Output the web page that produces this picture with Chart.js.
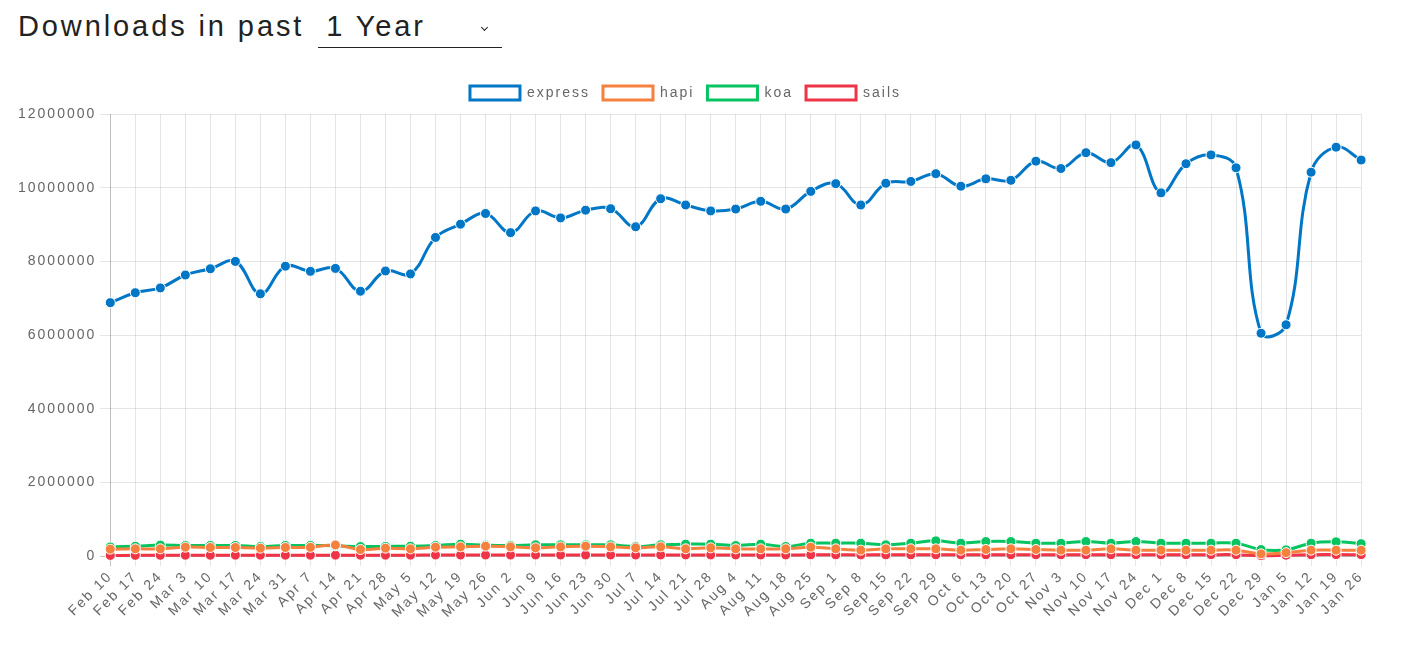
<!DOCTYPE html>
<html>
<head>
    <meta charset="UTF-8">
    <title>Downloads in past 1 Year</title>
    <style>
        body {
            margin: 0;
            background-color: white;
            font-family: "Liberation Sans", Arial, sans-serif;
        }

        #header {
            position: absolute;
            left: 18px;
            top: 10px;
            font-size: 29px;
            letter-spacing: 2.9px;
            color: #222;
            white-space: nowrap;
        }

        #period {
            display: inline-block;
            position: relative;
            width: 176px;
            margin-left: 3px;
            padding-left: 8px;
            border-bottom: 1.5px solid #222;
            padding-bottom: 4px;
        }

        /* little chevron like the native select */
        #period:after {
            content: '';
            position: absolute;
            right: 15px;
            top: 15px;
            width: 4px;
            height: 4px;
            border-right: 1.5px solid #222;
            border-bottom: 1.5px solid #222;
            transform: rotate(45deg);
        }

        #chartBox {
            position: absolute;
            left: 0;
            top: 73px;
            width: 1375px;
            height: 550px;
        }
    </style>
    <script src="https://cdn.jsdelivr.net/npm/chart.js"></script>
</head>
<body>
    <div id="header">Downloads in past <span id="period">1 Year</span></div>
    <div id="chartBox">
        <canvas id="downloadsChart"></canvas>
    </div>

    <script>
        var weeks = ['Feb 10', 'Feb 17', 'Feb 24', 'Mar 3', 'Mar 10', 'Mar 17', 'Mar 24', 'Mar 31',
            'Apr 7', 'Apr 14', 'Apr 21', 'Apr 28', 'May 5', 'May 12', 'May 19', 'May 26',
            'Jun 2', 'Jun 9', 'Jun 16', 'Jun 23', 'Jun 30', 'Jul 7', 'Jul 14', 'Jul 21', 'Jul 28',
            'Aug 4', 'Aug 11', 'Aug 18', 'Aug 25', 'Sep 1', 'Sep 8', 'Sep 15', 'Sep 22', 'Sep 29',
            'Oct 6', 'Oct 13', 'Oct 20', 'Oct 27', 'Nov 3', 'Nov 10', 'Nov 17', 'Nov 24',
            'Dec 1', 'Dec 8', 'Dec 15', 'Dec 22', 'Dec 29', 'Jan 5', 'Jan 12', 'Jan 19', 'Jan 26'];

        var expressDownloads = [6880000, 7150000, 7280000, 7630000, 7800000, 8000000, 7120000, 7870000,
            7730000, 7810000, 7190000, 7740000, 7660000, 8650000, 9010000, 9300000,
            8780000, 9370000, 9180000, 9390000, 9430000, 8940000, 9700000, 9530000, 9370000,
            9420000, 9630000, 9420000, 9900000, 10110000, 9530000, 10120000, 10170000, 10380000,
            10040000, 10240000, 10200000, 10720000, 10520000, 10950000, 10680000, 11160000,
            9860000, 10650000, 10890000, 10540000, 6050000, 6280000, 10420000, 11100000, 10750000];

        var hapiDownloads = [190000, 199000, 199000, 244000, 235000, 235000, 217000, 235000,
            240000, 305000, 181000, 217000, 199000, 244000, 253000, 271000,
            253000, 226000, 253000, 271000, 253000, 226000, 253000, 199000, 226000,
            199000, 199000, 199000, 244000, 199000, 163000, 199000, 199000, 199000,
            163000, 181000, 199000, 181000, 163000, 163000, 199000, 163000,
            163000, 163000, 163000, 163000, 63000, 95000, 163000, 163000, 163000];

        var koaDownloads = [250000, 270000, 300000, 290000, 290000, 290000, 260000, 290000,
            290000, 280000, 260000, 265000, 270000, 290000, 326000, 300000,
            290000, 308000, 308000, 308000, 308000, 262000, 308000, 326000, 326000,
            290000, 326000, 262000, 353000, 353000, 353000, 308000, 353000, 416000,
            353000, 398000, 398000, 353000, 353000, 398000, 353000, 398000,
            353000, 353000, 353000, 353000, 180000, 172000, 353000, 390000, 340000];

        var sailsDownloads = [20000, 22000, 24000, 25000, 25000, 26000, 27000, 26000,
            27000, 28000, 26000, 27000, 28000, 30000, 30000, 31000,
            30000, 32000, 33000, 32000, 33000, 30000, 33000, 34000, 33000,
            33000, 34000, 33000, 36000, 36000, 35000, 36000, 37000, 38000,
            37000, 38000, 39000, 38000, 38000, 40000, 39000, 40000,
            38000, 40000, 41000, 40000, 15000, 25000, 40000, 42000, 41000];

        var packageNames = ['express', 'hapi', 'koa', 'sails'];
        var packageColors = ['rgb(0, 118, 198)', 'rgb(246, 128, 62)', 'rgb(6, 196, 96)', 'rgb(238, 52, 70)'];
        var yTicks = [0, 2000000, 4000000, 6000000, 8000000, 10000000, 12000000];

        var textSpacing = '2px';

        var tweaksPlugin = {
            id: 'tweaks',
            beforeInit: function (chart) {
                // a bit more room under the legend
                var origFit = chart.legend.fit;
                chart.legend.fit = function () {
                    origFit.call(this);
                    this.height += 4;
                };
                // legend sits a little left of centre in the original
                var origDraw = chart.legend.draw;
                chart.legend.draw = function () {
                    this.ctx.save();
                    this.ctx.translate(-9, 0);
                    origDraw.apply(this, arguments);
                    this.ctx.restore();
                };
            },
            // canvas has no css letter-spacing, so push it into the context state
            beforeUpdate: function (chart) { chart.ctx.letterSpacing = textSpacing; },
            beforeLayout: function (chart) { chart.ctx.letterSpacing = textSpacing; },
            beforeDraw: function (chart) { chart.ctx.letterSpacing = textSpacing; }
        };

        function makeDataset(i, values) {
            return {
                label: packageNames[i],
                data: values,
                borderColor: packageColors[i],
                backgroundColor: 'white',
                borderWidth: 3,
                pointBackgroundColor: packageColors[i],
                pointBorderColor: 'white',
                pointBorderWidth: 1,
                pointRadius: 5,
                pointHoverRadius: 6,
                tension: 0.4,
                fill: false,
                clip: false
            };
        }

        function gridColor(ctx) {
            return ctx.index === 0 ? 'rgba(0, 0, 0, 0.25)' : 'rgba(0, 0, 0, 0.1)';
        }

        Chart.defaults.font.family = "'Liberation Sans', Arial, sans-serif";
        Chart.defaults.font.size = 14;
        Chart.defaults.color = '#666';

        var ctx = document.getElementById('downloadsChart');
        var gChart = new Chart(ctx, {
            type: 'line',
            data: {
                labels: weeks,
                datasets: [
                    makeDataset(0, expressDownloads),
                    makeDataset(1, hapiDownloads),
                    makeDataset(2, koaDownloads),
                    makeDataset(3, sailsDownloads)
                ]
            },
            options: {
                responsive: true,
                maintainAspectRatio: false,
                animation: false,
                layout: {
                    padding: { left: 14, right: 0, top: 0, bottom: 0 }
                },
                plugins: {
                    legend: {
                        position: 'top',
                        labels: {
                            boxWidth: 50,
                            boxHeight: 14,
                            padding: 13,
                            color: '#666',
                            font: { size: 14 }
                        }
                    },
                    tooltip: { enabled: false }
                },
                scales: {
                    x: {
                        grid: { color: gridColor, tickLength: 10 },
                        border: { display: false },
                        ticks: {
                            autoSkip: false,
                            minRotation: 45,
                            maxRotation: 45,
                            padding: 2,
                            font: { size: 14 }
                        }
                    },
                    y: {
                        min: 0,
                        max: 12000000,
                        afterBuildTicks: function (axis) {
                            axis.ticks = yTicks.map(function (v) { return { value: v }; });
                        },
                        grid: { color: gridColor, tickLength: 10 },
                        border: { display: false },
                        ticks: {
                            padding: 4,
                            font: { size: 14 },
                            callback: function (value) { return String(value); }
                        }
                    }
                }
            },
            plugins: [tweaksPlugin]
        });
    </script>
</body>
</html>
